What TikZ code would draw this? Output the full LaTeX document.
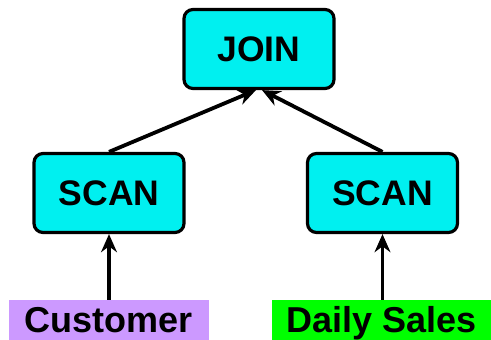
\documentclass[tikz,border=0pt]{standalone}
\usepackage{fontspec}
\setmainfont{Liberation Sans}
\usetikzlibrary{arrows.meta}
\definecolor{boxcyan}{RGB}{0,240,240}
\definecolor{custpurple}{RGB}{204,153,255}
\definecolor{salesgreen}{RGB}{0,255,0}
\tikzset{
  opbox/.style={draw=black, line width=3.2pt, rounded corners=9pt, fill=boxcyan,
    minimum width=150pt, minimum height=79pt, inner sep=0pt,
    font=\fontsize{35.5}{40}\selectfont\bfseries},
  tablebox/.style={draw=none, minimum height=40pt, inner sep=0pt,
    text height=26pt, text depth=0pt,
    font=\fontsize{36}{40}\selectfont\bfseries},
  connarrow/.style={line width=3.8pt, -{Stealth[scale=0.9,scale width=1.05]}}
}
\begin{document}
\begin{tikzpicture}[x=1pt,y=1pt]
\useasboundingbox (0,0) rectangle (491,340);
\fill[white] (0,0) rectangle (491,340);
\begin{scope}
\clip (0,0) rectangle (491,340);
\node[opbox] (j) at (259,291) {JOIN};
\node[opbox] (sl) at (109,147) {SCAN};
\node[opbox] (sr) at (382.5,147) {SCAN};
\node[tablebox, fill=custpurple, minimum width=200pt] (cu) at (109,20) {Customer};
\node[tablebox, fill=salesgreen, minimum width=219pt] (ds) at (381.5,20) {Daily Sales};
\draw[connarrow] (sl.north) -- ([xshift=-3pt]j.south);
\draw[connarrow] (sr.north) -- ([xshift=3pt]j.south);
\draw[connarrow] (cu.north -| sl.south) -- (sl.south);
\draw[connarrow] (ds.north -| sr.south) -- (sr.south);
\end{scope}
\end{tikzpicture}
\end{document}
